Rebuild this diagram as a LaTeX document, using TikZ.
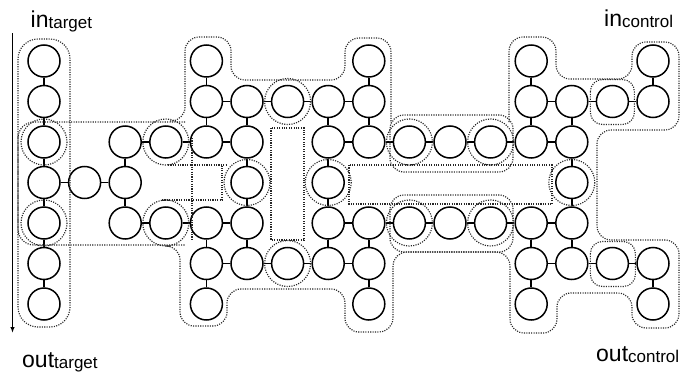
\documentclass[tikz,border=0pt]{standalone}
\usepackage{fontspec}
\setmainfont{Liberation Sans}
\usetikzlibrary{arrows.meta}
\newcommand\wiresub[1]{\raisebox{-1.5pt}{\fontsize{17}{20}\selectfont #1}}

\begin{document}
\begin{tikzpicture}[x=1pt,y=-1pt,>=Latex,
  qubit/.style={draw,circle,line width=1.5pt,minimum size=32pt,inner sep=0pt},
  link/.style={line width=1.5pt},
  region/.style={draw=black!85,line width=1.15pt,dash pattern=on 1.1pt off 1.3pt},
  wire/.style={font=\fontsize{23}{26}\selectfont,anchor=base west,inner sep=0pt}]
\useasboundingbox (0,0) rectangle (681,375);
% qubits, column by column
\foreach \c/\rows in {0/{0,1,2,3,4,5,6},1/{3},2/{2,3,4},3/{2,4},4/{0,1,2,4,5,6},5/{1,2,3,4,5},6/{1,5},7/{1,2,3,4,5},8/{0,1,2,4,5,6},9/{2,4},10/{2,4},11/{2,4},12/{0,1,2,4,5,6},13/{1,2,3,4,5},14/{1,5},15/{0,1,5,6}}
  \foreach \r in \rows
    \node[qubit] (q\c-\r) at ({44+40.6*\c},{61+40.5*\r}) {};
% bonds
\foreach \a/\b in {q0-0/q0-1,q0-1/q0-2,q0-2/q0-3,q0-3/q0-4,q0-4/q0-5,q0-5/q0-6,
  q0-3/q1-3,q1-3/q2-3,q2-2/q2-3,q2-3/q2-4,
  q2-2/q3-2,q3-2/q4-2,q4-2/q5-2,q2-4/q3-4,q3-4/q4-4,q4-4/q5-4,
  q4-0/q4-1,q4-1/q4-2,q4-4/q4-5,q4-5/q4-6,
  q5-1/q5-2,q5-2/q5-3,q5-3/q5-4,q5-4/q5-5,
  q4-1/q5-1,q5-1/q6-1,q6-1/q7-1,q7-1/q8-1,q4-5/q5-5,q5-5/q6-5,q6-5/q7-5,q7-5/q8-5,
  q7-1/q7-2,q7-2/q7-3,q7-3/q7-4,q7-4/q7-5,
  q8-0/q8-1,q8-1/q8-2,q8-4/q8-5,q8-5/q8-6,
  q7-2/q8-2,q8-2/q9-2,q9-2/q10-2,q10-2/q11-2,q11-2/q12-2,q12-2/q13-2,
  q7-4/q8-4,q8-4/q9-4,q9-4/q10-4,q10-4/q11-4,q11-4/q12-4,q12-4/q13-4,
  q12-0/q12-1,q12-1/q12-2,q12-4/q12-5,q12-5/q12-6,
  q13-1/q13-2,q13-2/q13-3,q13-3/q13-4,q13-4/q13-5,
  q12-1/q13-1,q13-1/q14-1,q14-1/q15-1,q12-5/q13-5,q13-5/q14-5,q14-5/q15-5,
  q15-0/q15-1,q15-5/q15-6}
  \draw[link] (\a) -- (\b);
% dotted regions
\draw[region,rounded corners=20] (18,39) rectangle (70,327);
\draw[region,rounded corners=16] (185,122) -- (18,122) -- (18,245) -- (185,245);
\draw[region] (192,138) -- (192,240);
\draw[region,rounded corners=14] (170,121) -- (185,121) -- (185,37) -- (231,37) -- (231,80) -- (345,80) -- (345,38) -- (391,38) -- (391,123)
  (509,122) -- (509,37) -- (556,37) -- (556,79) -- (632,79) -- (632,42) -- (679,42) -- (679,130) -- (597,130) -- (597,240) -- (679,240) -- (679,328) -- (632,328) -- (632,293) -- (557,293) -- (557,333) -- (510,333) -- (510,252) -- (393,252) -- (393,332) -- (345,332) -- (345,289) -- (227,289) -- (227,326) -- (180,326) -- (180,246) -- (170,246);
\draw[region] (168,165) -- (226,165);
\draw[region] (162,200) -- (222,200) -- (222,166);
\draw[region] (271,128) rectangle (304,240);
\draw[region] (349,165) rectangle (552,204);
\draw[region,rounded corners=14] (390,115) rectangle (513,172);
\draw[region,rounded corners=14] (390,195) rectangle (513,252);
\foreach \q in {q0-2,q0-4,q3-2,q3-4,q5-3,q6-1,q6-5,q7-3,q9-2,q9-4,q11-2,q11-4,q13-3}
  \draw[region] (\q) circle[radius=23];
\draw[region,rounded corners=12] ([shift={(-22,-22)}]q14-1.center) rectangle ([shift={(22,23)}]q14-1.center);
\draw[region,rounded corners=12] ([shift={(-22,-22)}]q14-5.center) rectangle ([shift={(23,23)}]q14-5.center);
% flow arrow and labels
\coordinate (flowtop) at (12.5,33);
\coordinate (flowbot) at (12.5,333);
\draw[-{Latex[length=6pt,width=4.5pt]},line width=1.2pt] (flowtop) -- (flowbot);
\node[wire] (intarget) at (30.5,27) {in\wiresub{target}};
\node[wire] (outtarget) at (22,367) {out\wiresub{target}};
\node[wire] (incontrol) at (604,26) {in\wiresub{control}};
\node[wire] (outcontrol) at (596,361) {out\wiresub{control}};
\end{tikzpicture}
\end{document}
